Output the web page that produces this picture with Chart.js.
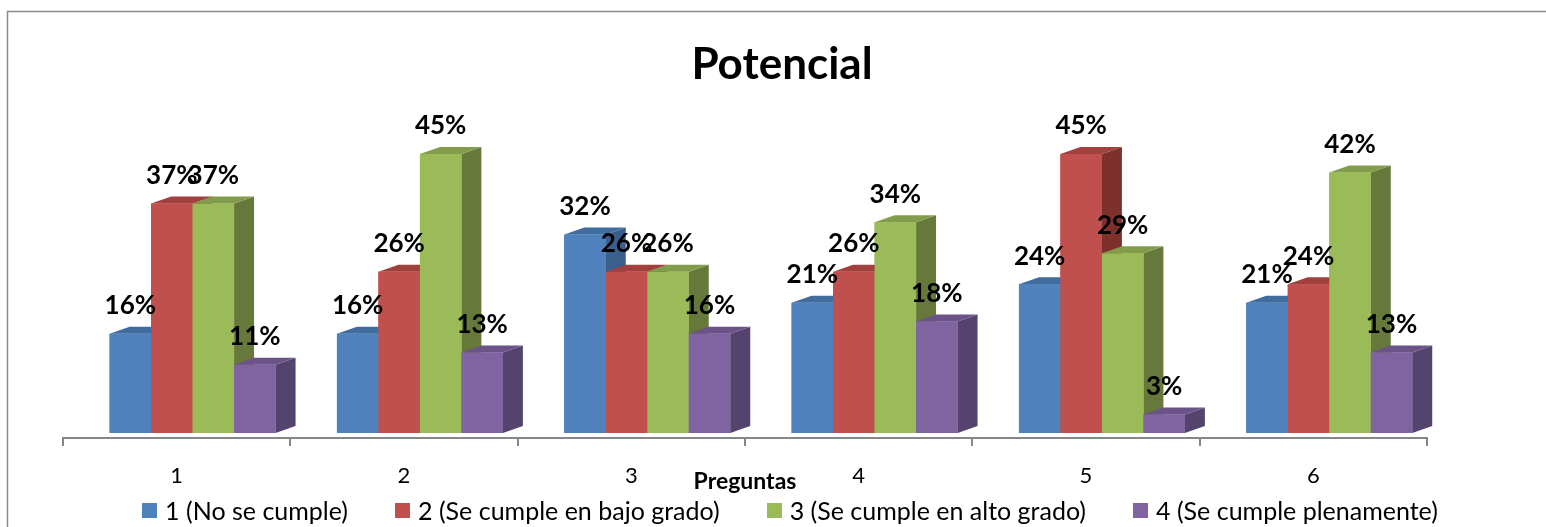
<!DOCTYPE html>
<html>
<head>
<meta charset="utf-8">
<script src="https://cdn.jsdelivr.net/npm/chart.js@4.4.1/dist/chart.umd.min.js"></script>
<style>
  html, body { margin: 0; padding: 0; background: #fff; }
  #wrap { position: relative; width: 1546px; height: 527px; }
  #legend {
    position: absolute; left: 0; top: 496px; width: 1546px; box-sizing: border-box; padding-left: 34px;
    display: flex; justify-content: center; gap: 47px;
    font-family: Lato, sans-serif; font-size: 25px; line-height: 28px; color: #000;
  }
  .item { display: flex; align-items: center; white-space: nowrap; }
  .box { width: 15px; height: 15px; margin-right: 8px; }
</style>
</head>
<body>
<div id="wrap">
  <canvas id="chart" width="1546" height="527"></canvas>
  <div id="legend"></div>
</div>
<script>
const categories = ['1', '2', '3', '4', '5', '6'];
const seriesNames = ['1 (No se cumple)', '2 (Se cumple en bajo grado)', '3 (Se cumple en alto grado)', '4 (Se cumple plenamente)'];
const noSeCumple = [16, 16, 32, 21, 24, 21];
const bajoGrado = [37, 26, 26, 26, 45, 24];
const altoGrado = [37, 45, 26, 34, 29, 42];
const plenamente = [11, 13, 16, 18, 3, 13];

const fronts = ['#4F81BD', '#C0504D', '#9BBB59', '#8064A2'];
const sides = ['#3A5F8C', '#7E302D', '#66783A', '#54436C'];
const tops = ['#416C9E', '#A2403D', '#819C4A', '#6A5388'];

const DX = 20, DY = 7;   // depth of the 3d bars
const SHIFT = 0.07;      // excel draws the bar groups a little right of the tick labels

// bars are drawn a second time, one by one, so the faces overlap the way excel does it
const bars3d = {
    id: 'bars3d',
    afterDatasetsDraw(chart) {
        const ctx = chart.ctx;
        const n = chart.data.datasets.length;
        for (let i = 0; i < categories.length; i++) {
            for (let d = 0; d < n; d++) {
                const el = chart.getDatasetMeta(d).data[i];
                const l = el.x - el.width / 2, r = el.x + el.width / 2;
                const t = el.y, b = el.base;
                ctx.save();
                ctx.fillStyle = sides[d];
                ctx.beginPath();
                ctx.moveTo(r, t); ctx.lineTo(r + DX, t - DY); ctx.lineTo(r + DX, b - DY); ctx.lineTo(r, b);
                ctx.closePath(); ctx.fill();
                ctx.fillStyle = tops[d];
                ctx.beginPath();
                ctx.moveTo(l, t); ctx.lineTo(l + DX, t - DY); ctx.lineTo(r + DX, t - DY); ctx.lineTo(r, t);
                ctx.closePath(); ctx.fill();
                ctx.restore();
                el.draw(ctx);
            }
        }
        ctx.save();
        ctx.font = 'bold 26px Lato, sans-serif';
        ctx.fillStyle = '#000';
        ctx.textAlign = 'center';
        ctx.textBaseline = 'middle';
        for (let d = 0; d < n; d++) {
            const ds = chart.data.datasets[d];
            chart.getDatasetMeta(d).data.forEach((el, i) => {
                ctx.fillText(ds.data[i].y + '%', el.x, el.y - 28);
            });
        }
        ctx.restore();
    }
};

const frame = {
    id: 'frame',
    beforeDraw(chart) {
        const ctx = chart.ctx;
        ctx.save();
        ctx.strokeStyle = '#8a8a8a';
        ctx.lineWidth = 1.5;
        ctx.beginPath();
        ctx.moveTo(7.5, 527); ctx.lineTo(7.5, 11.5); ctx.lineTo(1546, 11.5);
        ctx.stroke();
        ctx.restore();
    }
};

const values = [noSeCumple, bajoGrado, altoGrado, plenamente];
const datasets = values.map((arr, d) => ({
    label: seriesNames[d],
    data: arr.map((v, i) => ({ x: i + 1, y: v })),
    backgroundColor: fronts[d],
    borderWidth: 0,
    xAxisID: 'xb',
    categoryPercentage: 0.73,
    barPercentage: 1
}));

const hidden = { display: false };

new Chart(document.getElementById('chart'), {
    type: 'bar',
    data: { labels: categories, datasets },
    options: {
        responsive: false,
        animation: false,
        events: [],
        layout: { padding: { left: 18, right: 0, top: 0, bottom: 31.2 } },
        plugins: {
            legend: hidden,
            tooltip: { enabled: false },
            title: {
                display: true,
                text: 'Potencial',
                color: '#000',
                font: { family: 'Lato, sans-serif', size: 44, weight: 'bold' },
                padding: { top: 38.6, bottom: 31.6 }
            }
        },
        scales: {
            x: {
                type: 'category',
                offset: true,
                grid: { offset: true, drawOnChartArea: false, drawTicks: true, tickLength: 8, color: '#868686', lineWidth: 2 },
                border: { display: true, color: '#868686', width: 2 },
                ticks: { color: '#000', padding: 17, font: { family: 'Lato, sans-serif', size: 22 } },
                title: {
                    display: true,
                    text: 'Preguntas',
                    color: '#000',
                    font: { family: 'Lato, sans-serif', size: 23, weight: 'bold' },
                    // pulled up so it sits on the same row as the tick labels
                    padding: { top: -38.2, bottom: 0 }
                }
            },
            xb: {
                type: 'linear',
                display: false,
                offset: false,
                min: 0.5 - SHIFT,
                max: 6.5 - SHIFT,
                // one tick per question so the bar width follows the question spacing
                afterBuildTicks(s) { s.ticks = categories.map((c, i) => ({ value: i + 1 })); }
            },
            y: {
                min: -0.8,
                max: 50,
                ticks: hidden,
                grid: hidden,
                border: hidden,
                afterFit(s) { s.width = 45; }
            },
            yr: {
                type: 'linear',
                position: 'right',
                ticks: hidden,
                grid: hidden,
                border: hidden,
                afterFit(s) { s.width = 119; }
            }
        }
    },
    plugins: [frame, bars3d]
});

const legendEl = document.getElementById('legend');
legendEl.innerHTML = seriesNames.map((name, d) => `
  <div class="item"><div class="box" style="background:${fronts[d]}"></div><span>${name}</span></div>
`).join('');
</script>
</body>
</html>
